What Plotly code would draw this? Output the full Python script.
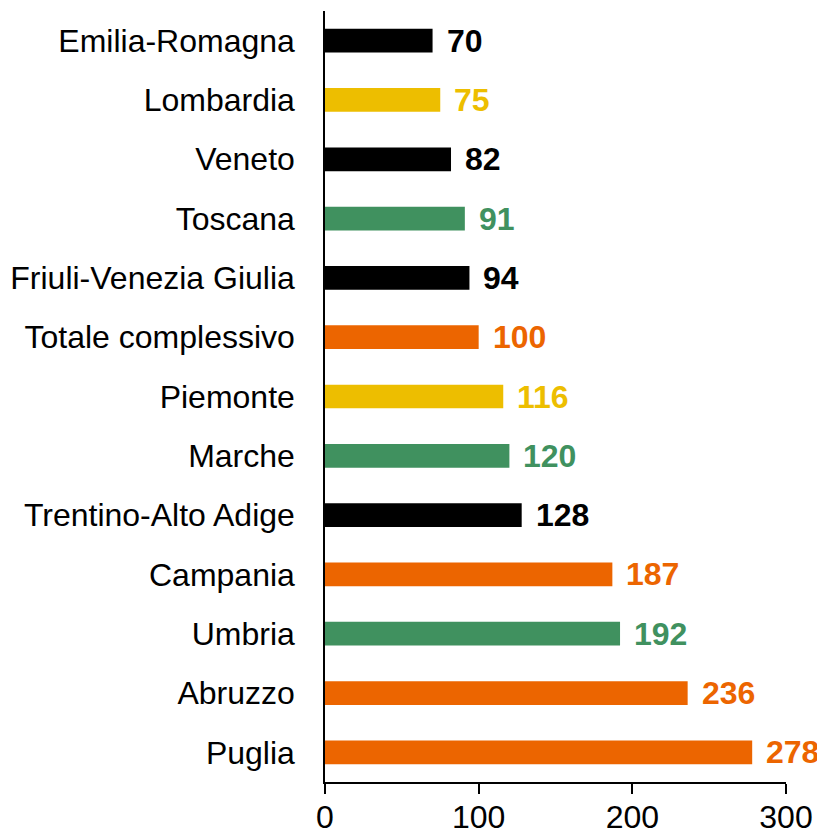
import plotly.graph_objects as go

categories = ["Emilia-Romagna", "Lombardia", "Veneto", "Toscana", "Friuli-Venezia Giulia",
              "Totale complessivo", "Piemonte", "Marche", "Trentino-Alto Adige",
              "Campania", "Umbria", "Abruzzo", "Puglia"]
values = [70, 75, 82, 91, 94, 100, 116, 120, 128, 187, 192, 236, 278]
BLACK, YELLOW, GREEN, ORANGE = "#000000", "#EDBE00", "#40915F", "#EC6500"
colors = [BLACK, YELLOW, BLACK, GREEN, BLACK, ORANGE, YELLOW, GREEN, BLACK,
          ORANGE, GREEN, ORANGE, ORANGE]
x_ticks = [0, 100, 200, 300]

FONT = "Liberation Sans, Arial, sans-serif"

fig = go.Figure()
fig.add_trace(go.Bar(
    y=categories, x=values, orientation="h",
    marker=dict(color=colors, line=dict(width=0)),
    width=0.4,
))
for c, v, col in zip(categories, values, colors):
    fig.add_annotation(x=v, y=c, text=str(v), showarrow=False,
                       xanchor="left", xshift=12,
                       font=dict(family=FONT, size=32, color=col, weight="bold"))

fig.update_layout(
    width=817, height=827,
    margin=dict(l=317, r=39, t=3, b=53, autoexpand=False),
    plot_bgcolor="white", paper_bgcolor="white",
    showlegend=False,
    font=dict(family=FONT, size=32, color="black"),
    bargap=0.6,
)
fig.update_xaxes(
    range=[0, 300], tickvals=x_ticks, ticktext=[str(t) for t in x_ticks],
    showgrid=False, zeroline=False,
    showline=True, linecolor="black", linewidth=1.5,
    ticks="outside", ticklen=10, tickwidth=1.5, tickcolor="black",
    ticklabelstandoff=-4,
    tickfont=dict(size=32, family=FONT, color="black"),
    automargin=False,
)
fig.update_yaxes(
    autorange="reversed", categoryorder="array", categoryarray=categories,
    showgrid=False, zeroline=False,
    showline=True, linecolor="black", linewidth=1.5,
    ticks="", ticklabelstandoff=22,
    tickfont=dict(size=32, family=FONT, color="black"),
    automargin=False,
)

fig.write_html("out.html")
